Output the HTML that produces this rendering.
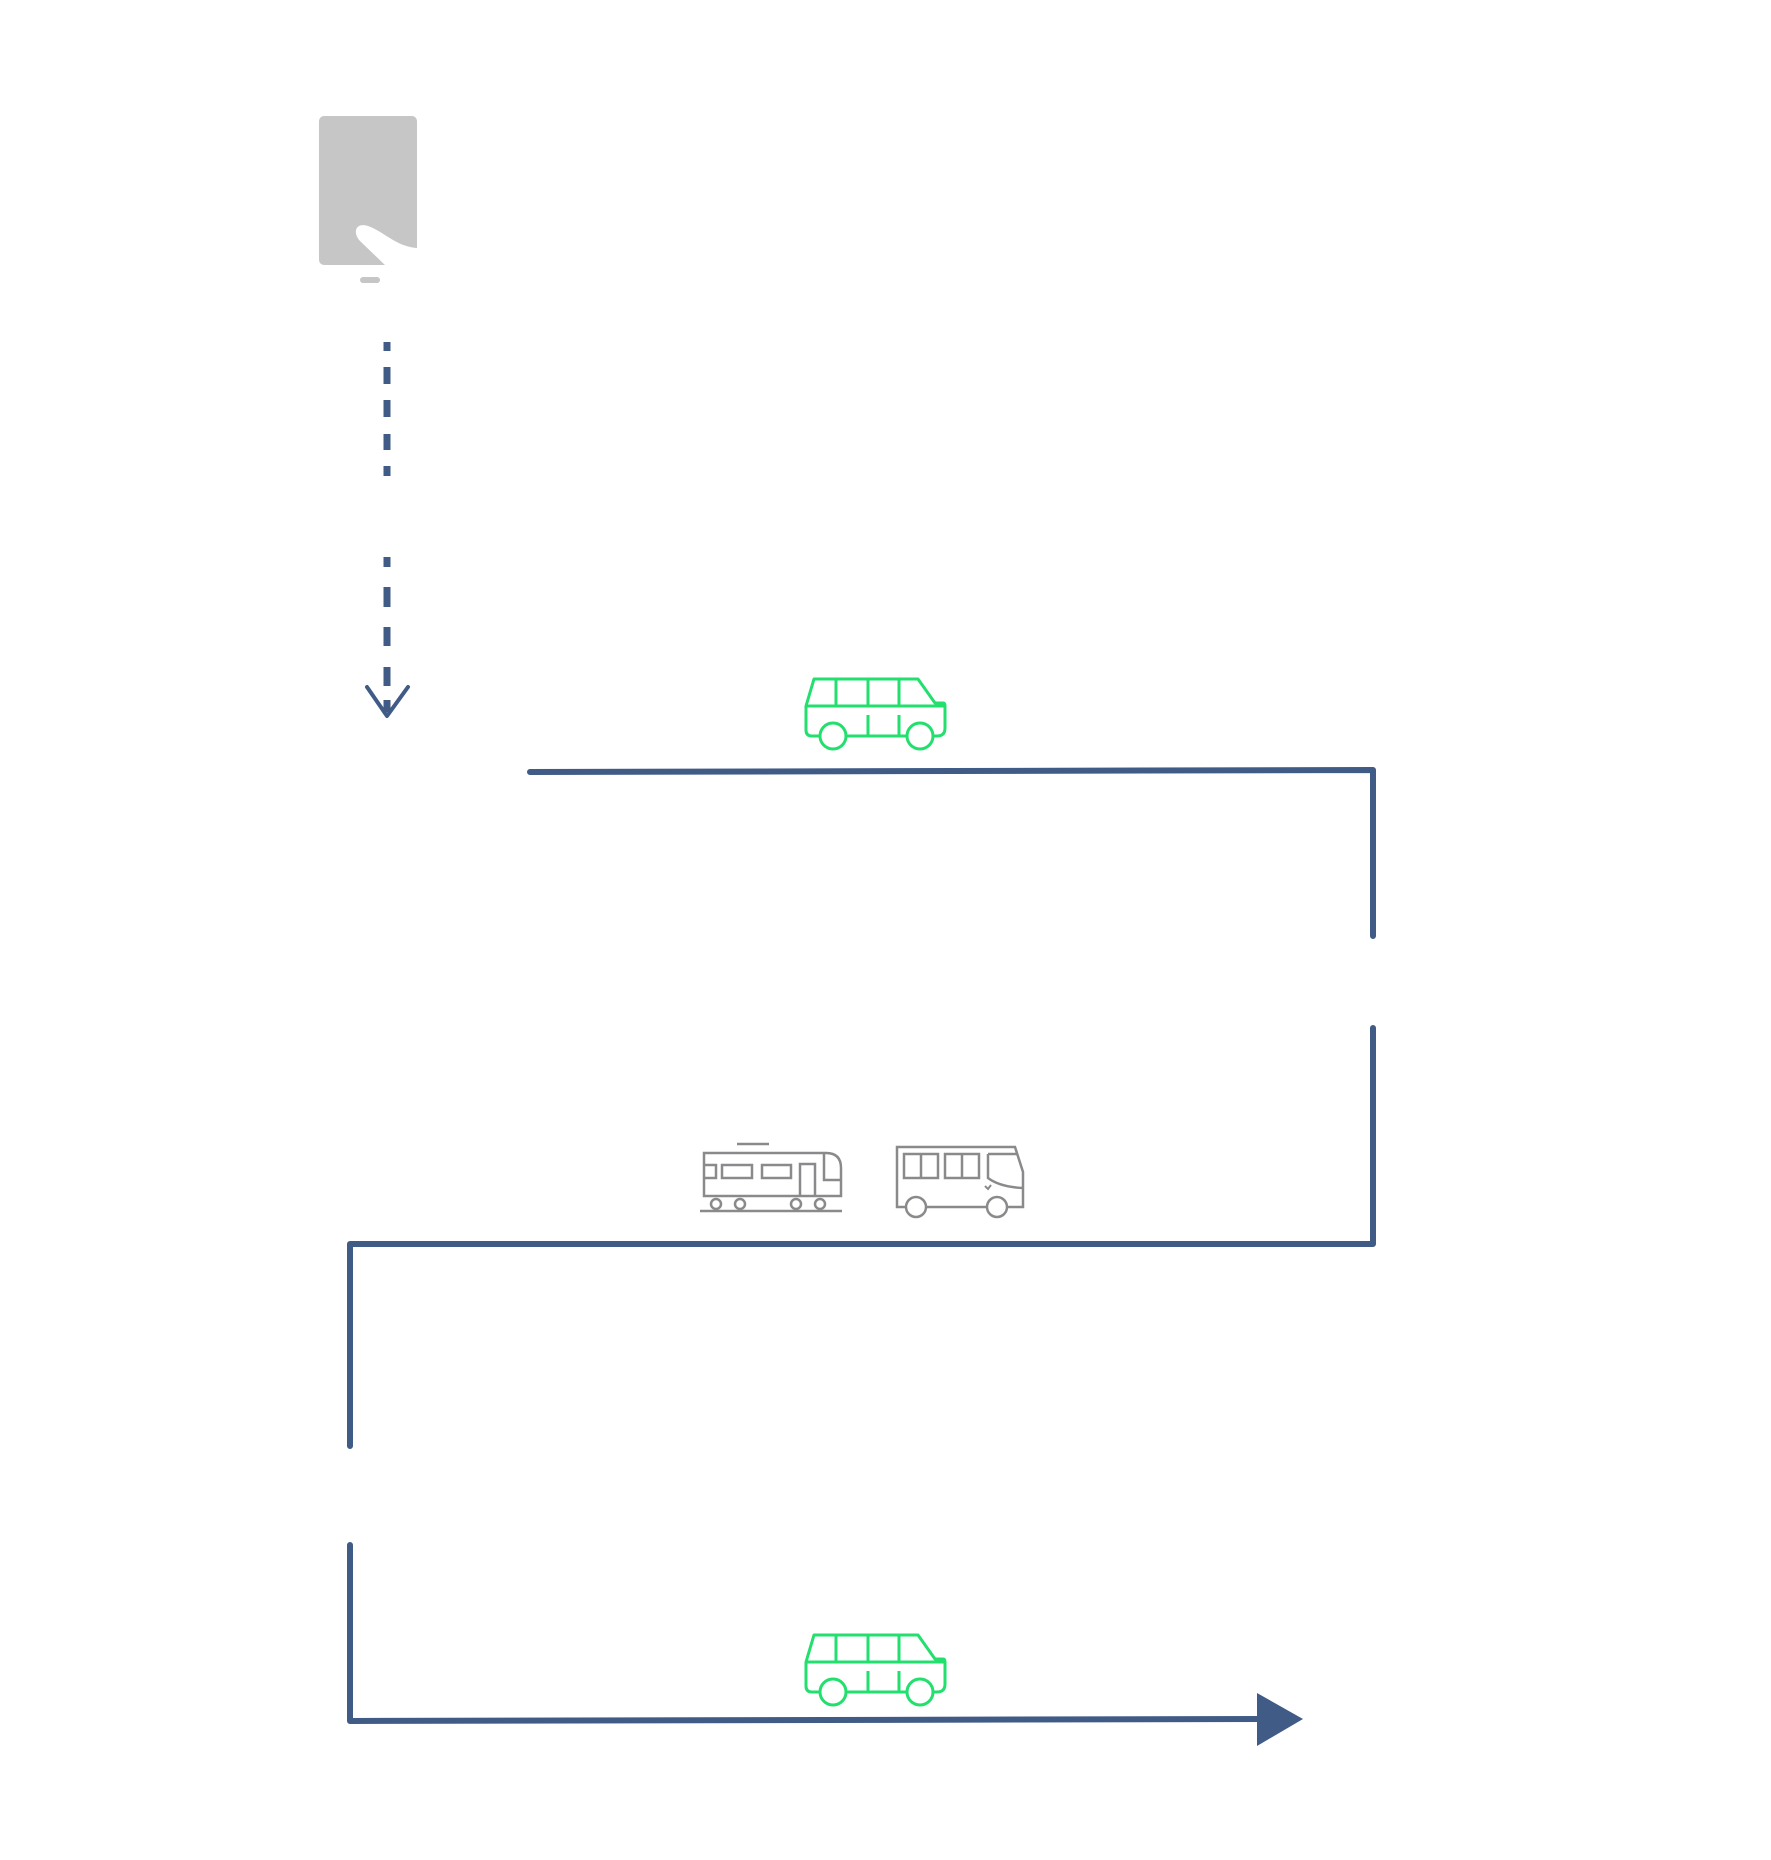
<!DOCTYPE html>
<html><head><meta charset="utf-8"><style>html,body{margin:0;padding:0;background:#fff;}svg{display:block;}</style></head>
<body>
<svg width="1771" height="1860" viewBox="0 0 1771 1860" xmlns="http://www.w3.org/2000/svg">
<defs>
<g id="van" fill="none" stroke="#22df6e" stroke-width="3" stroke-linejoin="round">
  <path d="M0,27 L8,0 H112 L129,24 H137 Q139,24 139,27 V49 Q139,57 131,57 H6 Q0,57 0,51 Z"/>
  <path d="M0,27 H139 M30,0 V27 M62,0 V27 M93,0 V27 M62,36 V57 M93,36 V57"/>
  <circle cx="27" cy="57" r="13" fill="#fff"/>
  <circle cx="114" cy="57" r="13" fill="#fff"/>
</g>
</defs>
<!-- phone -->
<rect x="319" y="116" width="98" height="149" rx="5" fill="#c6c6c6"/>
<path d="M417,248 C395,246 385,232 368,226 C356,222 352,232 360,241 L386,266 L417,266 Z" fill="#fff"/>
<rect x="360" y="277" width="20" height="6" rx="3" fill="#c6c6c6"/>
<!-- dashed -->
<g stroke="#3f5b86" stroke-width="7" fill="none">
<path d="M387,342 V351 M387,367 V384 M387,400 V417 M387,434 V450 M387,466 V476"/>
<path d="M387,557 V567 M387,587 V607 M387,627 V646 M387,667 V686 M387,700 V712"/>
</g>
<path d="M367,687 L387,716 L408,687" stroke="#3f5b86" stroke-width="4" fill="none" stroke-linecap="round" stroke-linejoin="round"/>
<!-- lines -->
<g stroke="#3f5b86" stroke-width="6" fill="none" stroke-linecap="round" stroke-linejoin="round">
<path d="M530,772 L1373,770 V936"/>
<path d="M1373,1028 V1244 H350 V1446"/>
<path d="M350,1545 V1721 L1262,1719"/>
</g>
<path d="M1257,1693 L1303,1719 L1257,1746 Z" fill="#3f5b86"/>
<!-- vans -->
<use href="#van" x="806" y="679"/>
<use href="#van" x="806" y="1635"/>
<!-- train -->
<g fill="none" stroke="#8a8a8c" stroke-width="2.5">
<path d="M737,1144 H769"/>
<path d="M704,1153 H826 Q841,1153 841,1168 V1196 H704 Z"/>
<path d="M824,1153 V1180 H841 M704,1165 H716 V1178 H704"/>
<rect x="722" y="1165" width="30" height="13"/>
<rect x="762" y="1165" width="29" height="13"/>
<path d="M800,1196 V1164 H815 V1196"/>
<circle cx="716" cy="1204" r="5" fill="#fff"/>
<circle cx="740" cy="1204" r="5" fill="#fff"/>
<circle cx="796" cy="1204" r="5" fill="#fff"/>
<circle cx="820" cy="1204" r="5" fill="#fff"/>
<path d="M700,1211 H842"/>
</g>
<!-- bus -->
<g fill="none" stroke="#8a8a8c" stroke-width="2.5">
<path d="M897,1147 H1015 L1023,1172 V1207 H897 Z"/>
<rect x="904" y="1154" width="34" height="24"/><path d="M921,1154 V1178"/>
<rect x="945" y="1154" width="34" height="24"/><path d="M962,1154 V1178"/>
<path d="M988,1154 H1017 M988,1154 V1178 Q1000,1187 1023,1188"/>
<path d="M985,1186 l3,3 l3,-4" stroke-width="2"/>
<circle cx="916" cy="1207" r="10" fill="#fff"/>
<circle cx="997" cy="1207" r="10" fill="#fff"/>
</g>
</svg>
</body></html>
